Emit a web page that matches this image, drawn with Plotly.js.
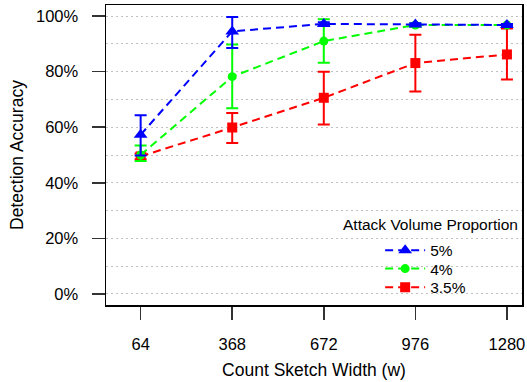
<!DOCTYPE html>
<html>
<head>
<meta charset="utf-8">
<script src="https://cdn.plot.ly/plotly-3.0.1.min.js"></script>
<style>html,body{margin:0;padding:0;background:#fff;}#chart{width:527px;height:382px;}</style>
</head>
<body>
<div id="chart"></div>
<script>
// Data
const widths = [64, 368, 672, 976, 1280];
const seriesNames = ['5%', '4%', '3.5%'];
const acc5 = [0.573, 0.945, 0.972, 0.970, 0.968];
const err5Up = [0.070, 0.052, 0.006, 0.004, 0.004];
const err5Down = [0.075, 0.060, 0.006, 0.004, 0.004];
const acc4 = [0.500, 0.782, 0.910, 0.968, 0.968];
const err4Up = [0.034, 0.116, 0.079, 0.006, 0.004];
const err4Down = [0.022, 0.114, 0.078, 0.006, 0.004];
const acc35 = [0.495, 0.599, 0.706, 0.831, 0.862];
const err35Up = [0.010, 0.052, 0.094, 0.102, 0.093];
const err35Down = [0.010, 0.056, 0.096, 0.102, 0.090];
const yTicks = [0, 0.2, 0.4, 0.6, 0.8, 1.0];
const legendTitle = 'Attack Volume Proportion';

const FONT = 'Liberation Sans, Arial, Helvetica, sans-serif';
const dashStyle = '8px,5px';

function series(name, y, up, down, color, symbol, size, legendId) {
  return {
    type: 'scatter', mode: 'lines+markers', name: name,
    x: widths, y: y, legend: legendId,
    line: {color: color, width: 2, dash: dashStyle},
    marker: {color: color, symbol: symbol, size: size, line: {width: 0}},
    error_y: {type: 'data', symmetric: false, array: up, arrayminus: down,
              color: color, thickness: 2, width: 6},
    cliponaxis: false
  };
}

const data = [
  series(seriesNames[2], acc35, err35Up, err35Down, '#ff0000', 'square', 10, 'legend3'),
  series(seriesNames[1], acc4, err4Up, err4Down, '#00ff00', 'circle', 9, 'legend2'),
  series(seriesNames[0], acc5, err5Up, err5Down, '#0000ff', 'triangle-up', 12, 'legend')
];

function legendBox(yc) {
  return {
    x: 0.659, xanchor: 'left', y: yc, yanchor: 'middle',
    bgcolor: 'rgba(0,0,0,0)', borderwidth: 0, itemwidth: 40,
    font: {family: FONT, size: 15.5, color: '#000'}
  };
}

const layout = {
  width: 527, height: 382,
  margin: {l: 106, r: 5, t: 5, b: 77},
  paper_bgcolor: '#fff', plot_bgcolor: '#fff',
  font: {family: FONT, color: '#000', size: 16},
  showlegend: true,
  legend: legendBox(0.181),
  legend2: legendBox(0.120),
  legend3: legendBox(0.0577),
  annotations: [{
    text: legendTitle, xref: 'paper', yref: 'paper', x: 0.779, y: 0.269,
    xanchor: 'center', yanchor: 'middle', showarrow: false,
    font: {family: FONT, size: 15.5, color: '#000'}
  }],
  xaxis: {
    range: [-51, 1330],
    tickvals: widths, ticktext: widths.map(String),
    ticks: 'outside', ticklen: 13, tickwidth: 1.5, tickcolor: '#333',
    ticklabelstandoff: 11,
    tickfont: {family: FONT, size: 16.5, color: '#000'},
    showline: true, linecolor: '#000', linewidth: 1.5, mirror: true,
    showgrid: false, zeroline: false,
    title: {text: 'Count Sketch Width (w)', font: {family: FONT, size: 17.5, color: '#000'}, standoff: 11}
  },
  yaxis: {
    range: [-0.04, 1.04],
    tickvals: yTicks, tickformat: '.0%',
    ticks: 'outside', ticklen: 13, tickwidth: 1.5, tickcolor: '#333',
    ticklabelstandoff: 10,
    tickfont: {family: FONT, size: 16.5, color: '#000'},
    showline: true, linecolor: '#000', linewidth: 1.5, mirror: true,
    showgrid: true, gridcolor: '#c0c0c0', gridwidth: 1, griddash: '2px,3px',
    minor: {dtick: 0.1, tick0: 0, showgrid: true, gridcolor: '#c0c0c0', gridwidth: 1, griddash: '2px,3px', ticks: ''},
    zeroline: false,
    title: {text: 'Detection Accuracy', font: {family: FONT, size: 17.5, color: '#000'}, standoff: 8}
  }
};

Plotly.newPlot('chart', data, layout, {displayModeBar: false, staticPlot: true});
</script>
</body>
</html>
